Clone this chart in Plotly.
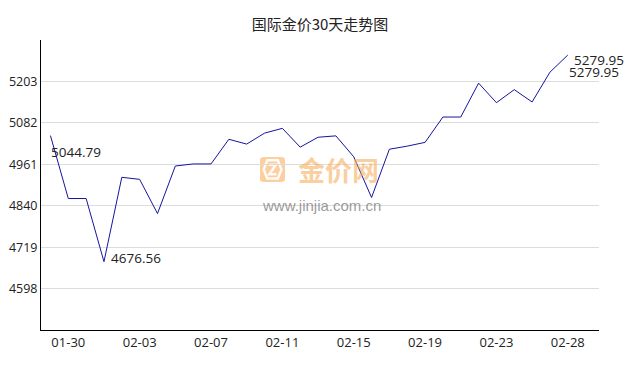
import plotly.graph_objects as go

dates = ["01-29", "01-30", "01-31", "02-01", "02-02", "02-03", "02-04", "02-05",
         "02-06", "02-07", "02-08", "02-09", "02-10", "02-11", "02-12", "02-13",
         "02-14", "02-15", "02-16", "02-17", "02-18", "02-19", "02-20", "02-21",
         "02-22", "02-23", "02-24", "02-25", "02-26", "02-28"]
prices = [5044.79, 4861, 4861, 4676.56, 4923, 4917, 4817, 4956,
          4962, 4962, 5034, 5020, 5052, 5066, 5011, 5040,
          5044, 4983, 4864, 5005, 5014, 5025, 5099, 5099,
          5198, 5141, 5179, 5143, 5230, 5279.95]
x_tick_labels = ["01-30", "02-03", "02-07", "02-11", "02-15", "02-19", "02-23", "02-28"]
y_tick_vals = [4598, 4719, 4840, 4961, 5082, 5203]
y_range = [4477, 5324]

title_text = "国际金价30天走势图"
num_font = "Open Sans, Noto Sans, sans-serif"

fig = go.Figure()
fig.add_trace(go.Scatter(
    x=dates, y=prices, mode="lines",
    line=dict(color="#1515a0", width=1),
    hoverinfo="skip", showlegend=False,
))

i_min = prices.index(min(prices))
i_max = prices.index(max(prices))
last = len(prices) - 1
ann_font = dict(family=num_font, size=13.5, color="#222222")

annotations = [
    dict(x=dates[0], y=prices[0], text=f"{prices[0]:.2f}", showarrow=False,
         xanchor="left", yanchor="middle", xshift=-1, yshift=-16, font=ann_font),
    dict(x=dates[i_min], y=prices[i_min], text=f"{prices[i_min]:.2f}", showarrow=False,
         xanchor="left", yanchor="middle", xshift=5, yshift=4, font=ann_font),
    dict(x=dates[i_max], y=prices[i_max], text=f"{prices[i_max]:.2f}", showarrow=False,
         xanchor="left", yanchor="middle", xshift=4, yshift=-5, font=ann_font),
    dict(x=dates[last], y=prices[last], text=f"{prices[last]:.2f}", showarrow=False,
         xanchor="left", yanchor="middle", xshift=-1, yshift=-17, font=ann_font),
    # watermark
    dict(x=0.534, y=0.553, xref="paper", yref="paper", text="<b>金价网</b>", showarrow=False,
         xanchor="center", yanchor="middle",
         font=dict(family="Noto Sans CJK SC", size=27, color="rgba(248,175,95,0.6)")),
    dict(x=0.502, y=0.428, xref="paper", yref="paper", text="www.jinjia.com.cn", showarrow=False,
         xanchor="center", yanchor="middle",
         font=dict(family="Liberation Sans, Arial", size=15, color="rgba(120,120,120,0.75)")),
]

shapes = [
    dict(type="path", xref="paper", yref="paper", layer="below",
         path="M 0.3996 0.5966 L 0.4302 0.5966 Q 0.4373 0.5966 0.4373 0.5862 "
              "L 0.4373 0.5207 Q 0.4373 0.5103 0.4302 0.5103 L 0.3996 0.5103 "
              "Q 0.3925 0.5103 0.3925 0.5207 L 0.3925 0.5862 Q 0.3925 0.5966 0.3996 0.5966 Z",
         fillcolor="rgba(248,175,95,0.6)", line=dict(width=0)),
    dict(type="path", xref="paper", yref="paper", layer="below",
         path="M 0.4055 0.5850 L 0.4245 0.5850 L 0.4310 0.5535 L 0.4245 0.5220 "
              "L 0.4055 0.5220 L 0.3990 0.5535 Z",
         fillcolor="rgba(0,0,0,0)", line=dict(color="rgba(255,255,255,0.9)", width=2.5)),
    dict(type="path", xref="paper", yref="paper", layer="below",
         path="M 0.4080 0.5700 L 0.4210 0.5700 L 0.4090 0.5370 L 0.4220 0.5370",
         fillcolor="rgba(0,0,0,0)", line=dict(color="rgba(255,255,255,0.9)", width=2.5)),
]

fig.update_layout(
    width=638, height=370,
    margin=dict(l=41, r=39, t=40, b=40, autoexpand=False),
    paper_bgcolor="white", plot_bgcolor="white",
    title=dict(text=title_text, x=0.5, xref="paper", y=1 - 25 / 370, yanchor="middle",
               font=dict(family="Noto Sans CJK SC", size=15, color="#222222")),
    annotations=annotations,
    shapes=shapes,
    xaxis=dict(
        type="category", categoryorder="array", categoryarray=dates,
        range=[-0.53, len(dates) + 0.75], automargin=False,
        tickmode="array", tickvals=x_tick_labels, ticktext=x_tick_labels,
        showgrid=False, zeroline=False,
        showline=True, linecolor="#000000", linewidth=1,
        ticks="", tickfont=dict(family=num_font, size=13, color="#222222"),
    ),
    yaxis=dict(
        range=y_range, tickmode="array", tickvals=y_tick_vals, automargin=False,
        ticktext=[str(v) for v in y_tick_vals],
        showgrid=True, gridcolor="#dcdcdc", gridwidth=1, zeroline=False,
        showline=True, linecolor="#000000", linewidth=1,
        ticks="", tickfont=dict(family=num_font, size=12.5, color="#222222"),
    ),
)

fig.write_html("out.html", config={"displayModeBar": False},
               post_script="document.body.style.margin='0';document.body.style.padding='0';")
